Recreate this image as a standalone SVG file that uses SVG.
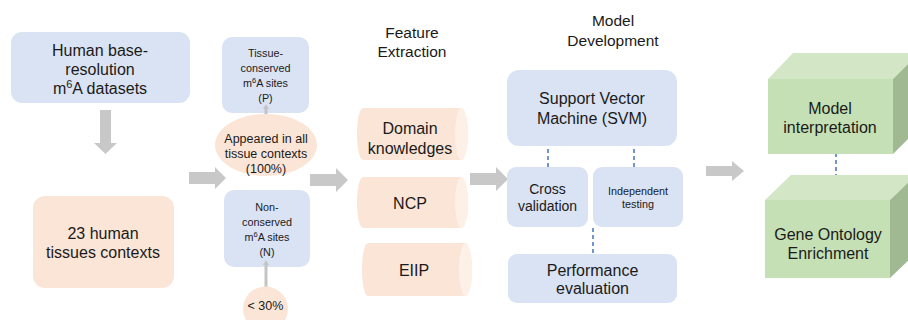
<svg xmlns="http://www.w3.org/2000/svg" width="908" height="320" viewBox="0 0 908 320">
<style>
text{font-family:"Liberation Sans",Arial,sans-serif;fill:#1a1a1a;text-anchor:middle}
.blue{fill:#dae3f3}
.peach{fill:#fbe5d6}
.peachL{fill:#fdf0e7}
.garrow{fill:#c8c8c8}
.gline{stroke:#c4c4c4;stroke-width:3;fill:none}
.dash{stroke:#4472c4;stroke-width:1.5;stroke-dasharray:4 3;fill:none}
.f16{font-size:16px}
.f15{font-size:15.5px}
.f14{font-size:14px}
.f12{font-size:12.5px}
.f11{font-size:10.8px}
.gfront{fill:#c5e0b4}
.gtop{fill:#d3e7c6}
.gside{fill:#a1b993}
</style>
<rect width="908" height="320" fill="#ffffff"/>

<g id="titles">
<text class="f15" x="412" y="38">Feature</text>
<text class="f15" x="412" y="57">Extraction</text>
<text class="f15" x="613" y="26">Model</text>
<text class="f15" x="613" y="46">Development</text>
</g>

<g id="human-datasets">
<rect class="blue" x="11" y="32" width="179" height="71" rx="11"/>
<text class="f16" x="100" y="56">Human base-</text>
<text class="f16" x="100" y="75">resolution</text>
<text class="f16" x="100" y="94">m<tspan font-size="11" dy="-6">6</tspan><tspan dy="6">A datasets</tspan></text>
</g>

<g id="tissues">
<rect class="peach" x="33" y="196" width="141" height="92" rx="12"/>
<text class="f16" x="103" y="239">23 human</text>
<text class="f16" x="103" y="258">tissues contexts</text>
</g>

<g id="conserved">
<rect class="blue" x="222" y="37" width="87" height="76" rx="10"/>
<text class="f11" x="265.5" y="57">Tissue-</text>
<text class="f11" x="265.5" y="72">conserved</text>
<text class="f11" x="265.5" y="87">m<tspan font-size="7.5" dy="-4">6</tspan><tspan dy="4">A sites</tspan></text>
<text class="f11" x="265.5" y="102">(P)</text>
</g>

<g id="nonconserved">
<rect class="blue" x="224" y="190" width="86" height="77" rx="10"/>
<text class="f11" x="267" y="211">Non-</text>
<text class="f11" x="267" y="226">conserved</text>
<text class="f11" x="267" y="241">m<tspan font-size="7.5" dy="-4">6</tspan><tspan dy="4">A sites</tspan></text>
<text class="f11" x="267" y="256">(N)</text>
</g>

<g id="connectors">
<polygon class="garrow" points="100,110 111,110 111,143 117,143 105.5,154 94,143 100,143"/>
<polygon class="garrow" points="189,172 215,172 215,167 226,178 215,189 215,184 189,184"/>
<polygon class="garrow" points="310,174 336,174 336,168 348,180 336,192 336,186 310,186"/>
<polygon class="garrow" points="470,173 496,173 496,167 508,179 496,191 496,185 470,185"/>
<polygon class="garrow" points="706,166 732,166 732,161 744,171 732,181 732,176 706,176"/>
<line class="gline" x1="266" y1="122" x2="266" y2="108"/>
<polygon fill="#c4c4c4" points="263,109 266,104 269,109"/>
<line class="gline" x1="266" y1="290" x2="266" y2="264"/>
<polygon fill="#c4c4c4" points="263,265 266,260 269,265"/>
<line class="dash" x1="548" y1="142" x2="548" y2="174"/>
<line class="dash" x1="634" y1="142" x2="634" y2="174"/>
<line class="dash" x1="593" y1="228" x2="593" y2="261"/>
<line class="dash" x1="836" y1="146" x2="836" y2="189"/>
</g>

<g id="appeared">
<ellipse class="peach" cx="266" cy="145" rx="51" ry="31"/>
<text class="f12" x="266" y="143">Appeared in all</text>
<text class="f12" x="266" y="158">tissue contexts</text>
<text class="f12" x="266" y="173">(100%)</text>
</g>

<g id="lt30">
<circle class="peach" cx="265.5" cy="309" r="22.5"/>
<text class="f12" x="265.5" y="310">&lt; 30%</text>
</g>

<g id="domain">
<path class="peach" d="M363,108 L461,108 A7,26 0 0 1 461,160 L363,160 A6,26 0 0 1 363,108 Z"/>
<ellipse class="peachL" cx="461.5" cy="134" rx="6.5" ry="26"/>
<text class="f16" x="410" y="134">Domain</text>
<text class="f16" x="410" y="154">knowledges</text>
</g>

<g id="ncp">
<path class="peach" d="M363,177 L461,177 A7,25.5 0 0 1 461,228 L363,228 A6,25.5 0 0 1 363,177 Z"/>
<ellipse class="peachL" cx="461.5" cy="202.5" rx="6.5" ry="25.5"/>
<text class="f16" x="410" y="209">NCP</text>
</g>

<g id="eiip">
<path class="peach" d="M368,243 L465,243 A7,26.5 0 0 1 465,296 L368,296 A6,26.5 0 0 1 368,243 Z"/>
<ellipse class="peachL" cx="465.5" cy="269.5" rx="6.5" ry="26.5"/>
<text class="f16" x="414" y="276">EIIP</text>
</g>

<g id="svm">
<rect class="blue" x="507" y="70" width="170" height="76" rx="12"/>
<text class="f16" x="592" y="104">Support Vector</text>
<text class="f16" x="592" y="124">Machine (SVM)</text>
</g>

<g id="cross">
<rect class="blue" x="507" y="167" width="81" height="60" rx="9"/>
<text class="f14" x="547.5" y="194">Cross</text>
<text class="f14" x="547.5" y="211">validation</text>
</g>

<g id="independent">
<rect class="blue" x="593" y="167" width="90" height="60" rx="9"/>
<text class="f11" x="638" y="195" font-size="11.5">Independent</text>
<text class="f11" x="638" y="208" font-size="11.5">testing</text>
</g>

<g id="performance">
<rect class="blue" x="508" y="254" width="169" height="49" rx="9"/>
<text class="f16" x="592.5" y="276">Performance</text>
<text class="f16" x="592.5" y="294">evaluation</text>
</g>

<g id="model-interp">
<polygon class="gtop" points="768,79 793,53 919,53 893,79"/>
<polygon class="gside" points="893,79 919,53 919,128 893,154"/>
<rect class="gfront" x="768" y="79" width="125" height="75"/>
<text class="f16" x="830" y="114">Model</text>
<text class="f16" x="830" y="133">interpretation</text>
</g>

<g id="gene-ontology">
<polygon class="gtop" points="765,200 791,175 916,175 890,200"/>
<polygon class="gside" points="890,200 916,175 916,253 890,278"/>
<rect class="gfront" x="765" y="200" width="125" height="78"/>
<text class="f16" x="828" y="240">Gene Ontology</text>
<text class="f16" x="828" y="259">Enrichment</text>
</g>
</svg>
